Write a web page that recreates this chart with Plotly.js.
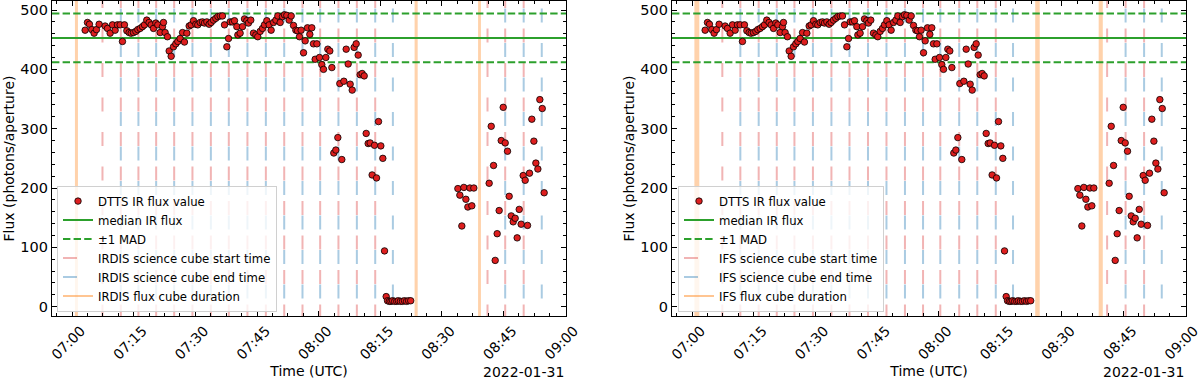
<!DOCTYPE html>
<html lang="en">
<head>
<meta charset="UTF-8">
<title>DTTS IR flux</title>
<script src="https://cdn.plot.ly/plotly-3.0.1.min.js"></script>
<style>
    body { margin: 0; }
    #myDiv { width: 1200px; height: 379px; }
</style>
</head>
<body>
<div id="myDiv"></div>
<script>
// times are minutes after 07:00 UTC on 2022-01-31
var fluxMin = [
    3.16, 3.73, 4.22, 4.79, 5.35, 5.92, 6.57, 8.03, 8.6, 9.25, 9.82, 10.47, 11.03, 11.68, 12.25, 12.74,
    13.31, 13.87, 14.36, 14.93, 15.5, 15.98, 16.55, 17.12, 17.61, 18.17, 18.74, 19.23, 19.8, 20.37, 20.85,
    21.42, 21.99, 22.23, 22.64, 23.2, 23.61, 24.1, 24.67, 25.23, 25.72, 26.29, 26.86, 27.34, 27.91, 28.48,
    28.97, 29.53, 30.1, 30.59, 31.16, 31.72, 32.21, 32.78, 33.35, 33.84, 34.4, 34.97, 35.46, 36.03, 36.59,
    37.08, 37.65, 38.06, 38.46, 39.03, 39.51, 40.08, 40.33, 40.89, 41.46, 41.95, 42.52, 42.92, 43.49, 44.14,
    44.71, 45.19, 45.76, 46.33, 46.82, 47.38, 47.95, 48.44, 49.01, 49.58, 50.06, 50.63, 51.2, 51.69, 52.25,
    52.82, 53.31, 53.88, 54.45, 54.85, 55.34, 55.74, 56.31, 56.72, 57.28, 57.85, 58.34, 58.74, 59.15, 59.56,
    60.2, 60.77, 61.18, 61.75, 62.23, 62.72, 63.21, 63.69, 64.18, 64.67, 65.15, 65.64, 66.13, 66.7, 67.18,
    67.67, 68.16, 68.64, 69.13, 69.62, 70.1, 70.59, 71.08, 71.56, 72.05, 72.54, 73.02, 73.59, 74.08, 74.57,
    75.13, 75.62, 76.03, 76.43, 76.76, 77.2, 77.6, 78.0, 78.5, 79.0, 79.4, 79.9, 80.4, 80.9, 81.4, 81.9, 82.4,
    93.88, 94.36, 94.85, 95.34, 95.83, 96.31, 96.8, 97.29, 97.77,
    101.5, 102.0, 102.56, 102.97, 103.45, 103.94, 104.43, 104.91, 105.4, 105.97, 106.37, 106.86, 107.35,
    107.83, 108.32, 108.81, 109.29, 109.78, 110.27, 110.84, 111.32, 111.89, 112.38, 112.86, 113.35, 113.84,
    114.41, 114.89
]
var fluxVal = [
    466, 479, 476, 467, 461, 467, 476, 473, 469, 461, 475, 466, 475, 475, 447, 475,
    465, 462, 461, 462, 464, 467, 469, 472, 475, 483, 479, 475, 469, 478, 475,
    462, 472, 479, 462, 455, 431, 422, 438, 443, 447, 452, 462, 446, 461, 473,
    475, 482, 476, 475, 479, 480, 478, 480, 476, 479, 483, 486, 489, 490, 490,
    475, 438, 452, 480, 480, 482, 472, 458, 461, 472, 485, 482, 478, 483, 461,
    458, 455, 464, 469, 475, 482, 475, 466, 479, 483, 490, 479, 489, 492, 491,
    483, 490, 474, 466, 465, 455, 466, 428, 448, 470, 459, 470, 443, 417, 443,
    420, 408, 400, 420, 434, 431, 403, 259, 264, 285, 376, 248, 380, 434, 409,
    375, 365, 437, 443, 424, 391, 393, 389, 292, 275, 276, 222, 272, 217, 312,
    271, 250, 94, 17, 10, 9, 9, 10, 9, 9, 10, 9, 9, 10, 9, 10, 10,
    199, 188, 136, 201, 181, 168, 200, 170, 200,
    208, 304, 238, 78, 123, 162, 280, 336, 276, 262, 186, 153, 143,
    149, 116, 164, 139, 221, 213, 137, 225, 316, 279, 242, 232, 349,
    334, 192
]
var medianFlux = 453
var madFlux = 41

var irdisStart = [7.38, 11.85, 16.14, 20.45, 24.83, 29.28, 33.76, 38.14, 42.67, 47.15, 51.61, 56.06,
                  60.37, 64.82, 69.3, 73.76, 101.1, 105.4, 109.9]
var irdisEnd = [11.85, 16.14, 20.45, 24.83, 29.28, 33.76, 38.14, 42.67, 47.15, 51.61, 56.06, 60.37,
                64.82, 69.3, 73.76, 78.07, 105.4, 109.9, 114.3]
var irdisFluxFrom = [0.68, 83.35, 98.8]
var irdisFluxTo = [1.42, 84.1, 99.5]

var ifsStart = [7.35, 11.74, 16.2, 20.6, 24.9, 29.4, 33.9, 38.3, 42.8, 47.3, 51.8, 56.2,
                60.4, 65.0, 69.4, 73.9, 101.0, 105.5, 110.0]
var ifsEnd = [11.74, 16.2, 20.6, 24.9, 29.4, 33.9, 38.3, 42.8, 47.3, 51.8, 56.2, 60.4,
              65.0, 69.4, 73.9, 78.1, 105.5, 110.0, 114.3]
var ifsFluxFrom = [0.55, 83.5, 98.95]
var ifsFluxTo = [1.75, 84.6, 99.95]

var xFrom = -4.9, xTo = 120.2
var yLo = -15.7, yHi = 515.2

function pad(n) { return (n < 10 ? '0' : '') + n }
function toTime(m) {
    var tot = 7 * 3600 + Math.round(m * 60)
    var h = Math.floor(tot / 3600), mi = Math.floor((tot % 3600) / 60), se = tot % 60
    return '2022-01-31 ' + pad(h) + ':' + pad(mi) + ':' + pad(se)
}

var plotH = 315
var pxPerUnit = plotH / (yHi - yLo)

// vertical dashed lines, started a few px off the top so red and blue dashes interleave
function vlines(times, topPx) {
    var x = [], y = []
    var top = yHi - topPx / pxPerUnit
    times.forEach(function (m) {
        x.push(toTime(m), toTime(m), null)
        y.push(top, yLo - 30, null)
    })
    return {x: x, y: y}
}

var font = 'DejaVu Sans, Liberation Sans, sans-serif'
var data = []
var shapes = []

function panel(inst, starts, ends, fFrom, fTo, xa, ya, leg) {
    var s = vlines(starts, -7)
    var e = vlines(ends, 7.5)
    data.push({
        x: s.x, y: s.y, xaxis: xa, yaxis: ya, legend: leg, mode: 'lines',
        name: inst + ' science cube start time', legendrank: 4,
        line: {color: 'rgba(214,39,40,0.35)', width: 2, dash: '14px,20.5px'}
    })
    data.push({
        x: e.x, y: e.y, xaxis: xa, yaxis: ya, legend: leg, mode: 'lines',
        name: inst + ' science cube end time', legendrank: 5,
        line: {color: 'rgba(31,119,180,0.38)', width: 2, dash: '14px,20.5px'}
    })
    data.push({
        x: [null], y: [null], xaxis: xa, yaxis: ya, legend: leg, mode: 'lines',
        name: inst + ' flux cube duration', legendrank: 6,
        line: {color: 'rgba(255,127,14,0.45)', width: 2}
    })
    data.push({
        x: [toTime(xFrom - 5), toTime(xTo + 5)], y: [medianFlux, medianFlux],
        xaxis: xa, yaxis: ya, legend: leg, mode: 'lines', name: 'median IR flux', legendrank: 2,
        line: {color: '#2ca02c', width: 2}
    })
    data.push({
        x: [toTime(xFrom), toTime(xTo + 5), null, toTime(xFrom), toTime(xTo + 5)],
        y: [medianFlux + madFlux, medianFlux + madFlux, null, medianFlux - madFlux, medianFlux - madFlux],
        xaxis: xa, yaxis: ya, legend: leg, mode: 'lines', name: '±1 MAD', legendrank: 3,
        line: {color: '#2ca02c', width: 2, dash: '7.4px,3.2px'}
    })
    data.push({
        x: fluxMin.map(toTime), y: fluxVal, xaxis: xa, yaxis: ya, legend: leg,
        mode: 'markers', name: 'DTTS IR flux value', legendrank: 1,
        marker: {color: 'rgb(222,30,30)', size: 6.5, line: {color: 'black', width: 0.8}}
    })
    for (var i = 0; i < fFrom.length; i++) {
        shapes.push({
            type: 'rect', layer: 'below', xref: xa, yref: ya + ' domain',
            x0: toTime(fFrom[i]), x1: toTime(fTo[i]), y0: 0, y1: 1,
            fillcolor: 'rgba(255,127,14,0.35)', line: {width: 0}
        })
    }
}

panel('IRDIS', irdisStart, irdisEnd, irdisFluxFrom, irdisFluxTo, 'x', 'y', 'legend')
panel('IFS', ifsStart, ifsEnd, ifsFluxFrom, ifsFluxTo, 'x2', 'y2', 'legend2')

function xAxis(dom, anchor) {
    return {
        type: 'date', domain: dom, anchor: anchor,
        range: [toTime(xFrom), toTime(xTo)],
        tick0: toTime(0), dtick: 900000, tickformat: '%H:%M', tickangle: -45,
        ticks: 'inside', ticklen: 5, tickwidth: 1, tickcolor: 'black',
        ticklabelshift: 9, ticklabeloverflow: 'allow',
        showline: true, linecolor: 'black', linewidth: 1.2, mirror: 'allticks',
        showgrid: false, zeroline: false,
        tickfont: {size: 14, color: 'black'},
        minor: {dtick: 225000, tick0: toTime(0), ticks: 'inside', ticklen: 3, tickcolor: 'black', showgrid: false},
        title: {text: 'Time (UTC)', font: {size: 14, color: 'black'}}
    }
}
function yAxis(anchor) {
    return {
        anchor: anchor, domain: [0, 1], range: [yLo, yHi],
        tick0: 0, dtick: 100,
        ticks: 'inside', ticklen: 5, tickwidth: 1, tickcolor: 'black',
        showline: true, linecolor: 'black', linewidth: 1.2, mirror: 'allticks',
        showgrid: false, zeroline: false,
        tickfont: {size: 14.5, color: 'black'},
        minor: {dtick: 20, ticks: 'inside', ticklen: 3, tickcolor: 'black', showgrid: false},
        title: {text: 'Flux (photons/aperture)', font: {size: 14, color: 'black'}}
    }
}

function legendAt(px) {
    return {
        x: px / 1200, xanchor: 'left', y: 0.014, yanchor: 'bottom',
        bgcolor: 'rgba(255,255,255,0.8)', bordercolor: '#d0d0d0', borderwidth: 1,
        font: {size: 11.7, color: 'black'}, tracegroupgap: 0
    }
}

var layout = {
    width: 1200, height: 379,
    margin: {l: 0, r: 0, t: 1, b: 63},
    paper_bgcolor: 'white', plot_bgcolor: 'white',
    font: {family: font, color: 'black'},
    showlegend: true,
    xaxis: xAxis([52 / 1200, 566 / 1200], 'y'),
    yaxis: yAxis('x'),
    xaxis2: xAxis([672 / 1200, 1186 / 1200], 'y2'),
    yaxis2: yAxis('x2'),
    legend: legendAt(57),
    legend2: legendAt(678),
    shapes: shapes,
    annotations: [
        {text: '2022-01-31', xref: 'x domain', yref: 'paper', x: 1, y: -0.178,
         xanchor: 'right', yanchor: 'middle', showarrow: false, font: {size: 14}},
        {text: '2022-01-31', xref: 'x2 domain', yref: 'paper', x: 1, y: -0.178,
         xanchor: 'right', yanchor: 'middle', showarrow: false, font: {size: 14}}
    ]
}

Plotly.newPlot('myDiv', data, layout, {displayModeBar: false})
</script>
</body>
</html>
